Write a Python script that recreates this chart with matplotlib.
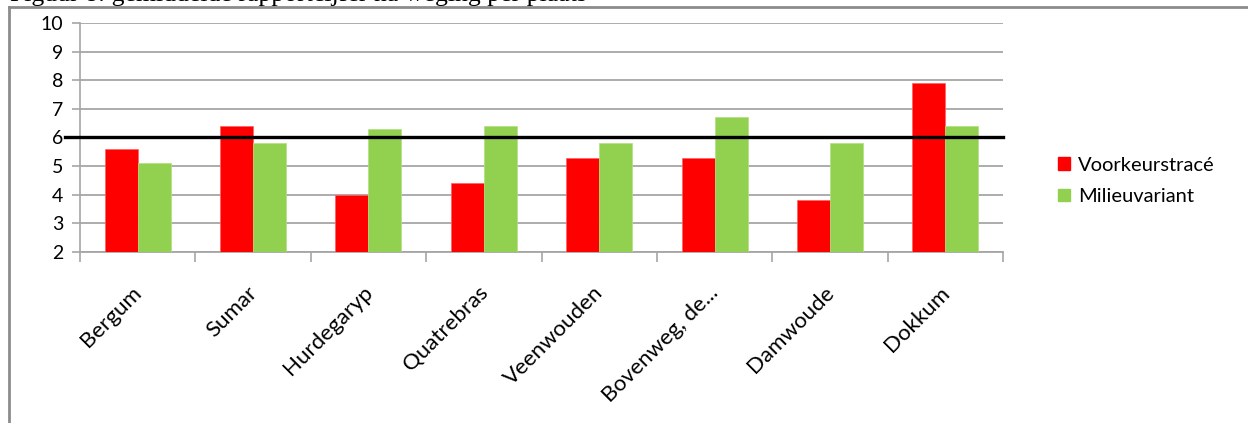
import matplotlib
matplotlib.use("Agg")
import matplotlib.pyplot as plt
from matplotlib.patches import Rectangle
from matplotlib.lines import Line2D
import numpy as np

# Data
places = ["Bergum", "Sumar", "Hurdegaryp", "Quatrebras", "Veenwouden",
          "Bovenweg, de...", "Damwoude", "Dokkum"]
voorkeurstrace = [5.6, 6.4, 4.0, 4.4, 5.3, 5.3, 3.8, 7.9]
milieuvariant = [5.1, 5.8, 6.3, 6.4, 5.8, 6.7, 5.8, 6.4]
series_names = ["Voorkeurstracé", "Milieuvariant"]
threshold = 6
y_ticks = [2, 3, 4, 5, 6, 7, 8, 9, 10]

RED = "#FF0000"
GREEN = "#92D050"
GRID = "#A6A6A6"
FONT = "Lato"

W, H, DPI = 1248, 423, 100
fig = plt.figure(figsize=(W / DPI, H / DPI), dpi=DPI)

# Caption line above the chart frame (its upper part lies above the page edge)
fig.text(0.008, 1.0 - 1.5 / H, "Figuur 8: gemiddelde rapportcijfer na weging per plaats",
         fontsize=18.5, family="Liberation Serif", va="baseline", ha="left")

# Chart frame
frame_left = 9 / W
frame_top = 1 - 7 / H
fig.add_artist(Line2D([frame_left, frame_left], [0, frame_top], transform=fig.transFigure,
                      color="#8C8C8C", lw=2))
fig.add_artist(Line2D([frame_left, 1.0], [frame_top, frame_top], transform=fig.transFigure,
                      color="#8C8C8C", lw=2))

# Plot area
x0, x1 = 80, 1003
y_top, y_bot = 23, 252
ax = fig.add_axes([x0 / W, 1 - y_bot / H, (x1 - x0) / W, (y_bot - y_top) / H])

n = len(places)
x = np.arange(n)
bw = 1 / 3.5
ax.bar(x - bw / 2, voorkeurstrace, width=bw, bottom=0, color=RED, zorder=3,
       edgecolor="#FF6060", linewidth=0.5)
ax.bar(x + bw / 2, milieuvariant, width=bw, bottom=0, color=GREEN, zorder=3,
       edgecolor="#B0E080", linewidth=0.5)

ax.set_xlim(-0.5, n - 0.5)
ax.set_ylim(2, 10)

# Horizontal gridlines
ax.set_yticks(y_ticks)
ax.yaxis.grid(True, color=GRID, lw=1.3, zorder=0)
ax.set_axisbelow(True)
ax.tick_params(axis="y", length=6, width=1.2, color=GRID, pad=6,
               labelsize=14)
for lab in ax.get_yticklabels():
    lab.set_family(FONT)

# Category labels at centres, separator ticks at boundaries
ax.set_xticks(x)
ax.set_xticklabels(places, rotation=45, ha="right", va="top",
                   fontsize=16, family=FONT)
ax.tick_params(axis="x", which="major", length=0, pad=22)
ax.set_xticks(np.arange(n + 1) - 0.5, minor=True)
ax.tick_params(axis="x", which="minor", length=7, width=1.2, color=GRID)
offset = matplotlib.transforms.ScaledTranslation(8 / DPI, 0, fig.dpi_scale_trans)
for lab in ax.get_xticklabels():
    lab.set_transform(lab.get_transform() + offset)

for side in ["top", "right"]:
    ax.spines[side].set_visible(False)
ax.spines["left"].set_color(GRID)
ax.spines["left"].set_linewidth(1.2)
ax.spines["bottom"].set_color(GRID)
ax.spines["bottom"].set_linewidth(1.3)

# Threshold line at 6
trans = matplotlib.transforms.blended_transform_factory(ax.transAxes, ax.transData)
ax.plot([-15 / (x1 - x0), 1.0], [threshold, threshold], color="black", lw=2.4,
        transform=trans, clip_on=False, zorder=4)

# Legend
handles = [Rectangle((0, 0), 1, 1, color=RED), Rectangle((0, 0), 1, 1, color=GREEN)]
fig.legend(handles, series_names, loc="center left",
           bbox_to_anchor=(1050 / W, 1 - 181 / H), frameon=False,
           prop={"family": FONT, "size": 14.5}, handlelength=0.6, handleheight=0.6,
           handletextpad=0.4, labelspacing=0.7, borderaxespad=0)

fig.savefig("out.png", dpi=DPI)
